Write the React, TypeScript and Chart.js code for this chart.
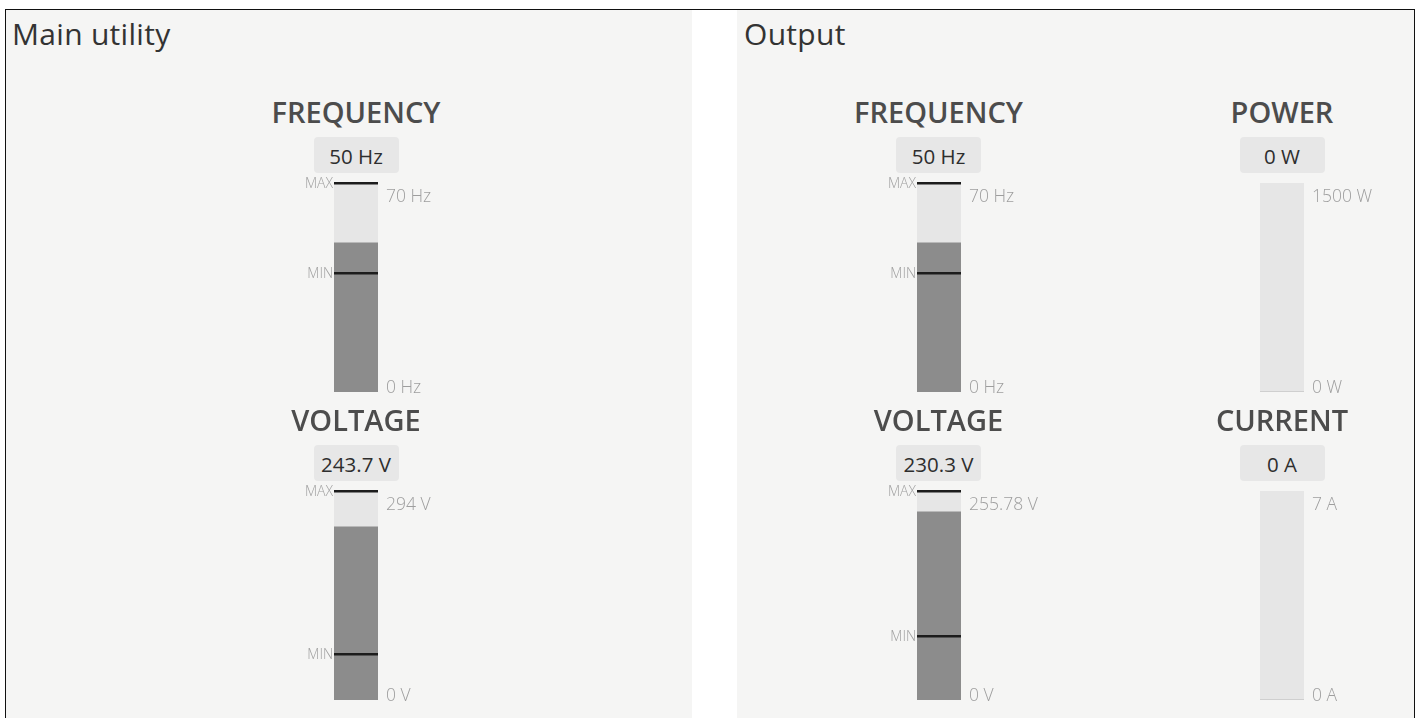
import React, { useEffect, useRef } from "react";
import { Chart, registerables } from "chart.js";

Chart.register(...registerables);

// ---- data ----
const panelTitles = ["Main utility", "Output"];
const gaugeNames = ["FREQUENCY", "VOLTAGE", "FREQUENCY", "VOLTAGE", "POWER", "CURRENT"];
const gaugeUnits = ["Hz", "V", "Hz", "V", "W", "A"];
const gaugeValues = [50, 243.7, 50, 230.3, 0, 0];
const gaugeScaleMax = [70, 294, 70, 255.78, 1500, 7];
const gaugeScaleMin = [0, 0, 0, 0, 0, 0];
const gaugeMaxMarks: (number | null)[] = [70, 294, 70, 255.78, null, null];
const gaugeMinMarks: (number | null)[] = [40, 65, 40, 78, null, null];

// ---- layout (positions only) ----
const gaugeCenterX = [356, 356, 938.5, 938.5, 1282, 1282];
const gaugeBarTop = [183, 491, 183, 491, 183, 491];

const BAR_W = 44;
const BAR_H = 209;
const CANVAS_W = 240;
const PAD_V = 10;
const FONT = '"Open Sans", "Noto Sans", sans-serif';

const markPlugin = {
  id: "marks",
  afterDatasetsDraw(chart: any, _args: any, opts: any) {
    const { ctx, chartArea } = chart;
    const y = chart.scales.y;
    ctx.save();
    const marks: [string, number | null][] = [
      ["MAX", opts.maxMark],
      ["MIN", opts.minMark],
    ];
    for (const [label, v] of marks) {
      if (v === null || v === undefined) continue;
      const py = Math.round(y.getPixelForValue(v));
      ctx.fillStyle = "#1c1c1c";
      ctx.fillRect(chartArea.left, py - 1, chartArea.right - chartArea.left, 2.5);
      ctx.font = `300 14px ${FONT}`;
      ctx.fillStyle = "#a0a0a0";
      ctx.textAlign = "right";
      ctx.textBaseline = "middle";
      ctx.fillText(label, chartArea.left - 1, py + 1);
    }
    ctx.font = `300 17.5px ${FONT}`;
    ctx.fillStyle = "#9e9e9e";
    ctx.textAlign = "left";
    ctx.textBaseline = "alphabetic";
    const x = chartArea.right + 8;
    ctx.fillText(opts.topLabel, x, y.getPixelForValue(y.max) + 19);
    ctx.fillText(opts.bottomLabel, x, y.getPixelForValue(y.min) + 1);
    ctx.restore();
  },
};

function GaugeBar({ i }: { i: number }) {
  const ref = useRef<HTMLCanvasElement | null>(null);
  useEffect(() => {
    if (!ref.current) return;
    const max = gaugeScaleMax[i];
    const min = gaugeScaleMin[i];
    const val = gaugeValues[i];
    const unit = gaugeUnits[i];
    const chart = new Chart(ref.current, {
      type: "bar",
      data: {
        labels: [gaugeNames[i]],
        datasets: [
          { data: [val], backgroundColor: "#8c8c8c", borderWidth: 0 },
          { data: [max - val], backgroundColor: "#e6e6e6", borderWidth: 0 },
        ],
      },
      options: {
        animation: false,
        responsive: false,
        events: [],
        layout: {
          padding: {
            left: (CANVAS_W - BAR_W) / 2,
            right: (CANVAS_W - BAR_W) / 2,
            top: PAD_V,
            bottom: PAD_V,
          },
        },
        datasets: { bar: { barPercentage: 1, categoryPercentage: 1 } },
        scales: {
          x: { stacked: true, display: false },
          y: { stacked: true, display: false, min, max },
        },
        plugins: {
          legend: { display: false },
          tooltip: { enabled: false },
          marks: {
            maxMark: gaugeMaxMarks[i],
            minMark: gaugeMinMarks[i],
            topLabel: `${max} ${unit}`,
            bottomLabel: `${min} ${unit}`,
          },
        } as any,
      },
      plugins: [markPlugin],
    });
    return () => chart.destroy();
  }, [i]);
  return (
    <canvas
      ref={ref}
      width={CANVAS_W}
      height={BAR_H + PAD_V * 2}
      style={{
        position: "absolute",
        left: gaugeCenterX[i] - CANVAS_W / 2,
        top: gaugeBarTop[i] - PAD_V,
        width: CANVAS_W,
        height: BAR_H + PAD_V * 2,
      }}
    />
  );
}

function Gauge({ i }: { i: number }) {
  const cx = gaugeCenterX[i];
  const top = gaugeBarTop[i];
  return (
    <>
      <div
        style={{
          position: "absolute",
          left: cx - 150,
          width: 300,
          top: top - 91,
          height: 40,
          lineHeight: "40px",
          fontSize: 29,
          fontWeight: 600,
          fontFamily: FONT,
          color: "#4c4c4c",
          textAlign: "center",
        }}
      >
        {gaugeNames[i]}
      </div>
      <div
        style={{
          position: "absolute",
          left: cx - 42.5,
          top: top - 46,
          width: 85,
          height: 36,
          lineHeight: "36px",
          background: "#e7e7e7",
          borderRadius: 4,
          fontSize: 20.5,
          fontFamily: FONT,
          color: "#2e2e2e",
          textAlign: "center",
          paddingTop: 1,
          boxSizing: "border-box",
        }}
      >
        {`${gaugeValues[i]} ${gaugeUnits[i]}`}
      </div>
      <GaugeBar i={i} />
    </>
  );
}

export default function App() {
  return (
    <div
      style={{
        position: "absolute",
        left: 0,
        top: 0,
        width: 1421,
        height: 718,
        overflow: "hidden",
        background: "#fff",
      }}
    >
      <div
        style={{
          position: "absolute",
          left: 5,
          top: 9,
          width: 1410,
          height: 740,
          border: "1px solid #111",
          boxSizing: "border-box",
        }}
      />
      <div style={{ position: "absolute", left: 6, top: 10, width: 686, height: 708, background: "#f5f5f4" }} />
      <div style={{ position: "absolute", left: 737, top: 10, width: 677, height: 708, background: "#f5f5f4" }} />
      {panelTitles.map((t, k) => (
        <div
          key={t}
          style={{
            position: "absolute",
            left: k === 0 ? 12 : 744,
            top: 14,
            lineHeight: "40px",
            fontSize: 30,
            fontFamily: FONT,
            color: "#333",
            letterSpacing: 0.3,
            whiteSpace: "nowrap",
          }}
        >
          {t}
        </div>
      ))}
      {gaugeNames.map((_, i) => (
        <Gauge key={i} i={i} />
      ))}
    </div>
  );
}
